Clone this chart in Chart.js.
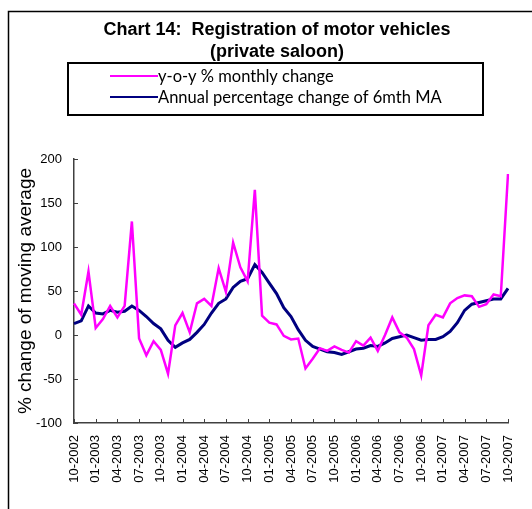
<!DOCTYPE html>
<html>
<head>
<meta charset="utf-8">
<script src="https://cdn.jsdelivr.net/npm/chart.js@4.4.0/dist/chart.umd.min.js"></script>
<style>
  html, body { margin: 0; padding: 0; background: #fff; }
  #wrap { width: 532px; height: 509px; }
</style>
</head>
<body>
<div id="wrap"><canvas id="grafico" width="532" height="509"></canvas></div>
<script>
// Dados (Oct 2002 .. Oct 2007, mensal)
const primeiroMes = 10;
const primeiroAno = 2002;
const totalMeses = 61;

const meses = [];
for (let i = 0; i < totalMeses; i++) {
  const m = (primeiroMes - 1 + i) % 12 + 1;
  const a = primeiroAno + Math.floor((primeiroMes - 1 + i) / 12);
  meses.push(String(m).padStart(2, "0") + "-" + a);
}

const yoyMensal = [
  36, 23, 72, 8, 18, 33, 20, 33, 129, -4,
  -23, -7, -17, -44, 11, 25, 3, 36, 41, 33,
  76, 49, 105, 77, 61, 165, 22, 14, 12, -1,
  -5, -4, -38, -27, -15, -18, -13, -17, -20, -7,
  -12, -3, -18, 0, 20, 3, -3, -16, -46, 11,
  23, 20, 36, 42, 45, 44, 32, 35, 46, 44,
  183
];

const mediaMovel6m = [
  13, 16, 33, 25, 24, 28, 26, 27, 33, 28,
  21, 13, 7, -6, -14, -9, -5, 3, 12, 25,
  36, 41, 54, 61, 64, 80, 71, 59, 47, 31,
  21, 6, -6, -13, -16, -19, -20, -22, -19, -16,
  -15, -12, -13, -9, -4, -2, 0, -3, -6, -5,
  -5, -2, 4, 14, 28, 35, 37, 39, 41, 41,
  53
];

const yTicks = [-100, -50, 0, 50, 100, 150, 200];

const nomesSeries = ["y-o-y % monthly change", "Annual percentage change of 6mth MA"];
const coresSeries = ["#ff00ff", "#000080"];
const tituloY = "% change of moving average";
const fonteArial = "'Liberation Sans', Arial, sans-serif";

// Moldura, título, legenda e marcas internas desenhados à mão
const moldura = {
  id: "moldura",
  afterDraw(chart) {
    const ctx = chart.ctx;
    const area = chart.chartArea;
    const sx = chart.scales.x;
    const sy = chart.scales.y;
    ctx.save();

    // marcas dos eixos (para dentro)
    ctx.strokeStyle = "#404040";
    ctx.lineWidth = 1;
    ctx.beginPath();
    yTicks.forEach(v => {
      const y = Math.round(sy.getPixelForValue(v)) + 0.5;
      ctx.moveTo(area.left, y);
      ctx.lineTo(area.left + 4, y);
    });
    meses.forEach((m, i) => {
      if (i % 3 !== 0) return;
      const x = Math.round(sx.getPixelForValue(i)) + 0.5;
      ctx.moveTo(x, area.bottom);
      ctx.lineTo(x, area.bottom - 4);
    });
    ctx.stroke();

    // moldura externa
    ctx.strokeStyle = "#000";
    ctx.lineWidth = 1.5;
    ctx.beginPath();
    ctx.moveTo(8.5, 509);
    ctx.lineTo(8.5, 11.5);
    ctx.lineTo(532, 11.5);
    ctx.stroke();

    // título
    ctx.fillStyle = "#000";
    ctx.font = "bold 18px " + fonteArial;
    ctx.textAlign = "center";
    ctx.textBaseline = "alphabetic";
    ctx.fillText("Chart 14:  Registration of motor vehicles", 277, 35);
    ctx.fillText("(private saloon)", 277, 57);

    // título do eixo y
    ctx.save();
    ctx.translate(31, 291);
    ctx.rotate(-Math.PI / 2);
    ctx.font = "19px " + fonteArial;
    ctx.textBaseline = "alphabetic";
    ctx.fillText(tituloY, 0, 0);
    ctx.restore();

    // legenda
    ctx.fillStyle = "#fff";
    ctx.fillRect(68, 63, 415, 52);
    ctx.strokeStyle = "#000";
    ctx.lineWidth = 2;
    ctx.strokeRect(68, 63, 415, 52);
    ctx.font = "16.5px Lato, 'Open Sans', sans-serif";
    ctx.textAlign = "left";
    ctx.textBaseline = "middle";
    chart.data.datasets.forEach((ds, i) => {
      const y = 76 + i * 21;
      ctx.strokeStyle = ds.borderColor;
      ctx.lineWidth = 2;
      ctx.beginPath();
      ctx.moveTo(110, y);
      ctx.lineTo(158, y);
      ctx.stroke();
      ctx.fillStyle = "#000";
      ctx.fillText(ds.label, 158, y + 1);
    });
    ctx.restore();
  }
};

function criarGrafico() {
  const ctx = document.getElementById("grafico").getContext("2d");
  new Chart(ctx, {
    type: "line",
    data: {
      labels: meses,
      datasets: [
        {
          label: nomesSeries[0],
          data: yoyMensal,
          borderColor: coresSeries[0],
          borderWidth: 2.5,
          pointRadius: 0,
          tension: 0
        },
        {
          label: nomesSeries[1],
          data: mediaMovel6m,
          borderColor: coresSeries[1],
          borderWidth: 3,
          pointRadius: 0,
          tension: 0
        }
      ]
    },
    options: {
      responsive: false,
      animation: false,
      layout: { padding: { top: 159, right: 24, bottom: 0, left: 0 } },
      plugins: {
        legend: { display: false },
        title: { display: false },
        tooltip: { enabled: false }
      },
      scales: {
        x: {
          offset: false,
          afterFit: (s) => { s.height = 86; },
          border: { display: true, color: "#404040", width: 1.5 },
          grid: { display: false },
          ticks: {
            autoSkip: false,
            maxRotation: 90,
            minRotation: 90,
            color: "#000",
            padding: 4,
            font: { family: fonteArial, size: 13 },
            callback: function (val, idx) {
              return idx % 3 === 0 ? meses[idx] : null;
            }
          }
        },
        y: {
          min: -100,
          max: 200,
          afterFit: (s) => { s.width = 74; },
          afterBuildTicks: (s) => { s.ticks = yTicks.map(v => ({ value: v })); },
          border: { display: true, color: "#404040", width: 1.5 },
          grid: { display: false },
          ticks: {
            color: "#000",
            padding: 4,
            font: { family: fonteArial, size: 13 }
          }
        }
      }
    },
    plugins: [moldura]
  });
}

criarGrafico();
</script>
</body>
</html>
